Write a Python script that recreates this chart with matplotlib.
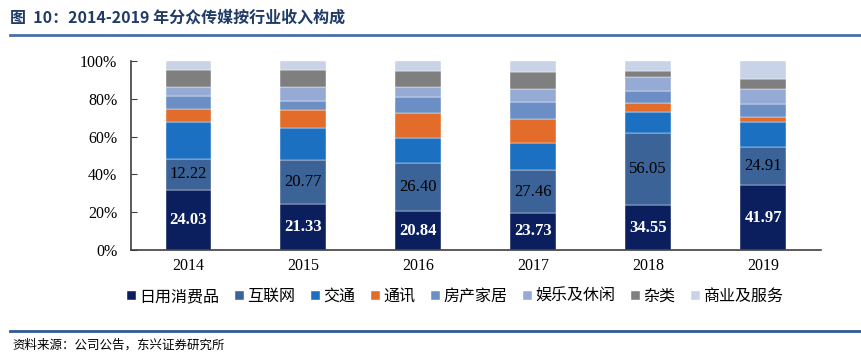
import matplotlib.pyplot as plt
import numpy as np

plt.rcParams['font.family'] = ['Liberation Serif', 'Noto Sans CJK SC']

# Data (亿元; shares shown as 100% stacked)
years = ['2014', '2015', '2016', '2017', '2018', '2019']
categories = ['日用消费品', '互联网', '交通', '通讯', '房产家居', '娱乐及休闲', '杂类', '商业及服务']
daily = [24.03, 21.33, 20.84, 23.73, 34.55, 41.97]
internet = [12.22, 20.77, 26.40, 27.46, 56.05, 24.91]
traffic = [14.7, 14.8, 13.5, 17.4, 16.2, 16.2]
telecom = [5.2, 8.2, 13.5, 15.4, 6.4, 3.4]
realty = [5.1, 4.3, 8.5, 10.8, 9.6, 8.2]
leisure = [3.7, 6.6, 5.2, 8.4, 10.5, 9.7]
misc = [6.7, 7.8, 9.0, 11.1, 4.8, 6.5]
business = [3.7, 4.4, 5.2, 6.8, 7.7, 11.6]

colors = ['#0b1f5e', '#3b6398', '#1c70c2', '#e46c2a', '#6b8fc5', '#95abd5', '#7f7f7f', '#c9d3e8']

series = np.array([daily, internet, traffic, telecom, realty, leisure, misc, business])
shares = series / series.sum(axis=0)

fig = plt.figure(figsize=(8.62, 3.6), dpi=100)
ax = fig.add_axes([0.152, 0.3056, 0.800, 0.525])

x = np.arange(len(years))
bottom = np.zeros(len(years))
for i, name in enumerate(categories):
    ax.bar(x, shares[i], 0.4, bottom=bottom, color=colors[i], label=name,
           edgecolor='white', linewidth=0.3)
    if i < 2:
        for j in range(len(years)):
            ax.text(x[j], bottom[j] + shares[i][j] / 2, f'{series[i][j]:.2f}',
                    ha='center', va='center', fontsize=12,
                    color='white' if i == 0 else 'black',
                    fontweight='bold' if i == 0 else 'normal')
    bottom += shares[i]

ax.set_xlim(-0.5, 5.5)
ax.set_ylim(0, 1)
ax.set_xticks(x)
ax.set_xticklabels(years, fontsize=11.5)
ax.set_yticks(np.arange(0, 1.01, 0.2))
ax.set_yticklabels([f'{int(v * 100)}%' for v in np.arange(0, 1.01, 0.2)], fontsize=11.5)
ax.tick_params(axis='y', direction='in', length=4, color='#404040', pad=10)
ax.tick_params(axis='x', length=0, pad=6)
for s in ['top', 'right']:
    ax.spines[s].set_visible(False)
for s in ['left', 'bottom']:
    ax.spines[s].set_color('#404040')
    ax.spines[s].set_linewidth(1.2)

ax.legend(loc='upper center', bbox_to_anchor=(0.47, -0.125), ncol=8, frameon=False,
          handlelength=0.55, handleheight=0.55, handletextpad=0.2,
          columnspacing=1.0, prop={'family': ['Noto Sans CJK SC'], 'size': 11.5})

# Title, rules and source
fig.text(0.012, 0.95, '图  10：2014-2019 年分众传媒按行业收入构成', fontsize=11.5,
         fontweight='bold', color='#1f3b66', family=['Noto Sans CJK SC'], va='center')
fig.add_artist(plt.Line2D([0.012, 1.0], [0.903, 0.903], color='#4a6fa5', linewidth=2))
fig.add_artist(plt.Line2D([0.012, 1.0], [0.081, 0.081], color='#2f5a94', linewidth=2))
fig.text(0.014, 0.04, '资料来源：公司公告，东兴证券研究所', fontsize=9, style='italic',
         family=['Noto Sans CJK SC'], va='center')

fig.savefig('out.png', dpi=100)
